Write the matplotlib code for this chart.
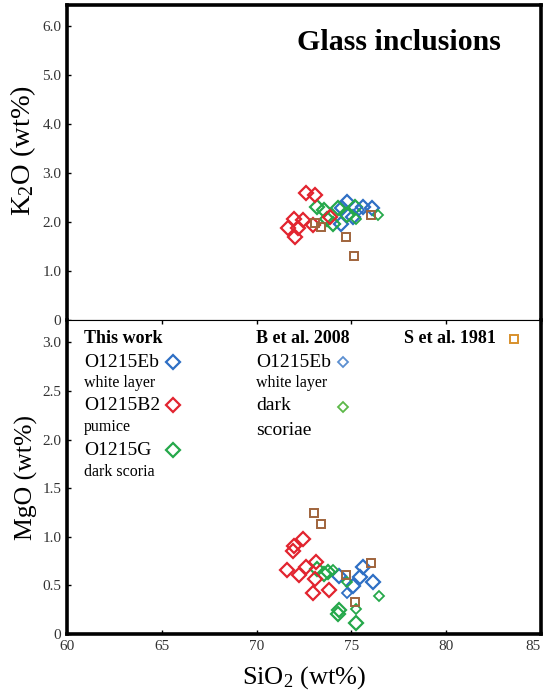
"""Glass inclusion K2O and MgO against SiO2."""

import matplotlib

matplotlib.use("Agg")

import matplotlib.pyplot as plt

plt.rcParams["font.family"] = ["Liberation Serif", "DejaVu Serif"]
plt.rcParams["mathtext.fontset"] = "custom"
plt.rcParams["mathtext.rm"] = "Liberation Serif"
plt.rcParams["mathtext.it"] = "Liberation Serif:italic"

# This work, O1215Eb white layer (blue)
eb_sio2_k = [74.75, 75.63, 76.07, 74.45, 75.10, 74.49]
eb_k2o = [2.40, 2.31, 2.28, 1.97, 2.11, 2.29]
eb_sio2_mg = [74.35, 75.63, 75.45, 75.10, 76.12]
eb_mgo = [0.60, 0.69, 0.59, 0.49, 0.54]

# This work, O1215B2 pumice (red)
b2_sio2_k = [72.60, 73.08, 71.97, 72.47, 71.67, 72.20, 72.03, 73.00, 73.87]
b2_k2o = [2.59, 2.56, 2.07, 2.04, 1.88, 1.87, 1.70, 1.94, 2.11]
b2_sio2_mg = [72.47, 71.99, 71.94, 71.62, 72.24, 72.60, 73.13, 73.08, 72.99, 73.82]
b2_mgo = [0.98, 0.91, 0.85, 0.66, 0.61, 0.69, 0.74, 0.57, 0.42, 0.45]

# This work, O1215G dark scoria (green)
g_sio2_k = [73.17, 73.57, 74.31, 75.19, 73.70, 74.05, 74.75]
g_k2o = [2.30, 2.25, 2.28, 2.30, 2.07, 1.97, 2.14]
g_sio2_mg = [73.17, 73.56, 74.36, 74.28, 75.22, 73.75]
g_mgo = [0.67, 0.62, 0.25, 0.21, 0.11, 0.64]

# B et al. 2008, white layer (blue) and dark scoriae (green)
bb_sio2_k = [75.40]
bb_k2o = [2.24]
bb_sio2_mg = [74.75]
bb_mgo = [0.42]
bg_sio2_k = [75.24, 76.42]
bg_k2o = [2.07, 2.14]
bg_sio2_mg = [74.05, 74.75, 75.22, 76.46]
bg_mgo = [0.66, 0.54, 0.26, 0.39]

# S et al. 1981 (brown squares)
s_sio2_k = [73.08, 73.40, 74.71, 75.15, 76.02]
s_k2o = [1.99, 1.90, 1.70, 1.31, 2.14]
s_sio2_mg = [73.04, 73.38, 76.02, 74.71, 75.19]
s_mgo = [1.24, 1.13, 0.73, 0.61, 0.33]

k2o_ticks = [0, 1, 2, 3, 4, 5, 6]
k2o_labels = ["0", "1.0", "2.0", "3.0", "4.0", "5.0", "6.0"]
mgo_ticks = [0, 0.5, 1.0, 1.5, 2.0, 2.5, 3.0]
mgo_labels = ["0", "0.5", "1.0", "1.5", "2.0", "2.5", "3.0"]
sio2_ticks = [60, 65, 70, 75, 80, 85]

BLUE = "#2e6fc4"
RED = "#e2242f"
GREEN = "#25a84a"
BROWN = "#a0643c"
LBLUE = "#5b8fd0"
LGREEN = "#5cb848"
ORANGE = "#d8902c"
TICK_GREY = "#333333"

big = dict(marker="D", ms=7.5, mfc="none", mew=1.6, ls="none")
small = dict(marker="D", ms=5.5, mfc="none", mew=1.3, ls="none")
square = dict(marker="s", ms=6, mfc="none", mew=1.4, ls="none")

fig = plt.figure(figsize=(5.46, 6.98), dpi=100)
ax_k = fig.add_axes([0.1227, 0.5415, 0.8681, 0.4513])
ax_m = fig.add_axes([0.1227, 0.0917, 0.8681, 0.4498])

ax_k.plot(eb_sio2_k, eb_k2o, color=BLUE, **big)
ax_k.plot(g_sio2_k, g_k2o, color=GREEN, **big)
ax_k.plot(b2_sio2_k, b2_k2o, color=RED, **big)
ax_k.plot(bb_sio2_k, bb_k2o, color=BLUE, **small)
ax_k.plot(bg_sio2_k, bg_k2o, color=GREEN, **small)
ax_k.plot(s_sio2_k, s_k2o, color=BROWN, **square)

ax_m.plot(eb_sio2_mg, eb_mgo, color=BLUE, **big)
ax_m.plot(g_sio2_mg, g_mgo, color=GREEN, **big)
ax_m.plot(b2_sio2_mg, b2_mgo, color=RED, **big)
ax_m.plot(bb_sio2_mg, bb_mgo, color=BLUE, **small)
ax_m.plot(bg_sio2_mg, bg_mgo, color=GREEN, **small)
ax_m.plot(s_sio2_mg, s_mgo, color=BROWN, **square)

ax_k.set_xlim(60, 85)
ax_k.set_ylim(0, 6.43)
ax_m.set_xlim(60, 85)
ax_m.set_ylim(0, 3.23)

ax_k.set_yticks(k2o_ticks, k2o_labels)
ax_k.set_xticks(sio2_ticks, [])
ax_m.set_yticks(mgo_ticks, mgo_labels)
ax_m.set_xticks(sio2_ticks, [str(t) for t in sio2_ticks])
ax_m.get_xticklabels()[-1].set_ha("right")

for ax in (ax_k, ax_m):
    ax.tick_params(direction="in", length=3, width=1, labelsize=11, pad=4,
                   labelcolor=TICK_GREY)
    for side in ("left", "right", "top", "bottom"):
        ax.spines[side].set_linewidth(2.6)
ax_k.tick_params(axis="x", length=0)
ax_m.tick_params(axis="x", top=True)
ax_k.spines["bottom"].set_linewidth(0.8)
ax_m.spines["top"].set_linewidth(0.8)

ax_k.set_ylabel("K$_2$O (wt%)", fontsize=20.5)
ax_k.yaxis.set_label_coords(-0.062, 0.537)
ax_m.set_ylabel("MgO (wt%)", fontsize=18.5)
ax_m.yaxis.set_label_coords(-0.062, 0.5)
ax_m.set_xlabel("SiO$_2$ (wt%)", fontsize=19, labelpad=8)
ax_k.text(0.7, 0.88, "Glass inclusions", transform=ax_k.transAxes,
          fontsize=21.5, fontweight="bold", ha="center", va="center")

# legend block inside the MgO panel
tr = ax_m.transAxes
ax_m.text(0.036, 0.94, "This work", transform=tr, fontsize=13, fontweight="bold", va="center")
ax_m.text(0.036, 0.865, "O1215Eb", transform=tr, fontsize=14, va="center")
ax_m.text(0.036, 0.80, "white layer", transform=tr, fontsize=11.5, va="center")
ax_m.text(0.036, 0.728, "O1215B2", transform=tr, fontsize=14, va="center")
ax_m.text(0.036, 0.658, "pumice", transform=tr, fontsize=11.5, va="center")
ax_m.text(0.036, 0.585, "O1215G", transform=tr, fontsize=14, va="center")
ax_m.text(0.036, 0.515, "dark scoria", transform=tr, fontsize=11.5, va="center")
ax_m.plot([0.224], [0.865], transform=tr, color=BLUE, **big)
ax_m.plot([0.224], [0.728], transform=tr, color=RED, **big)
ax_m.plot([0.224], [0.585], transform=tr, color=GREEN, **big)

ax_m.text(0.399, 0.94, "B et al. 2008", transform=tr, fontsize=13, fontweight="bold", va="center")
ax_m.text(0.399, 0.865, "O1215Eb", transform=tr, fontsize=14, va="center")
ax_m.text(0.399, 0.80, "white layer", transform=tr, fontsize=11.5, va="center")
ax_m.text(0.399, 0.728, "dark", transform=tr, fontsize=14, va="center")
ax_m.text(0.399, 0.648, "scoriae", transform=tr, fontsize=14, va="center")
ax_m.plot([0.582], [0.865], transform=tr, color=LBLUE, **small)
ax_m.plot([0.582], [0.722], transform=tr, color=LGREEN, **small)

ax_m.text(0.711, 0.94, "S et al. 1981", transform=tr, fontsize=13, fontweight="bold", va="center")
ax_m.plot([0.943], [0.94], transform=tr, color=ORANGE, **square)

fig.savefig("out.png", dpi=100)
